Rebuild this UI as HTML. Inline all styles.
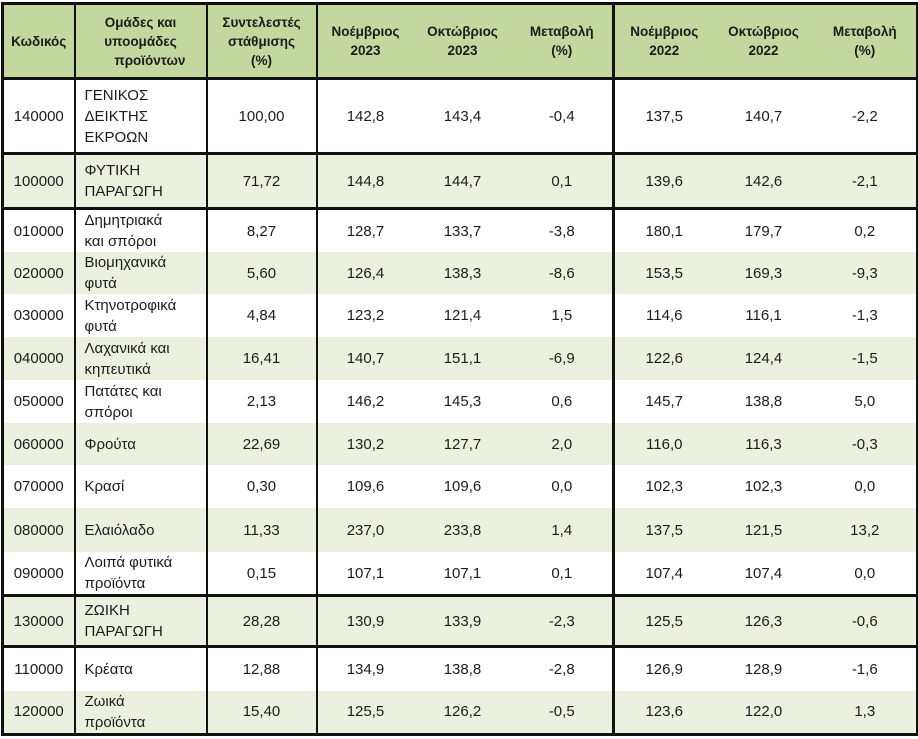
<!DOCTYPE html>
<html><head><meta charset="utf-8">
<style>
html,body{margin:0;padding:0;background:#fff;}
body{width:918px;height:739px;overflow:hidden;}
table{position:absolute;left:1px;top:2px;border-collapse:collapse;table-layout:fixed;width:915px;
font-family:"Liberation Sans","DejaVu Sans",sans-serif;font-size:15px;color:#1c1c1c;border:3px solid #111;}
td{padding:0;text-align:center;vertical-align:middle;line-height:21px;}
td.n{text-align:left;padding-left:9px;}
tr.h td{background:#c4d79e;font-weight:bold;font-size:13.5px;line-height:19px;height:72px;}
tr.g td{background:#ebf1de;}
tr.t td{border-top:3px solid #111;}
td.c1{border-right:2px solid #111;}
td.c2{border-right:2px solid #111;}
td.c3{border-right:2px solid #111;}
td.c6{border-right:3px solid #111;}
</style></head><body>
<table>
<colgroup><col style="width:72px"><col style="width:132px"><col style="width:110px"><col style="width:97px"><col style="width:98px"><col style="width:102px"><col style="width:100px"><col style="width:100px"><col style="width:104px"></colgroup>
<tr class="h"><td class="c1">Κωδικός</td><td class="c2">Ομάδες και<br>υποομάδες<br>&nbsp;&nbsp;&nbsp;&nbsp;&nbsp;προϊόντων</td><td class="c3">Συντελεστές<br>στάθμισης<br>(%)</td><td>Νοέμβριος<br>2023</td><td>Οκτώβριος<br>2023</td><td class="c6">Μεταβολή<br>(%)</td><td>Νοέμβριος<br>2022</td><td>Οκτώβριος<br>2022</td><td>Μεταβολή<br>(%)</td></tr>
<tr class="t" style="height:75px"><td class="c1">140000</td><td class="c2 n">ΓΕΝΙΚΟΣ<br>ΔΕΙΚΤΗΣ<br>ΕΚΡΟΩΝ</td><td class="c3">100,00</td><td>142,8</td><td>143,4</td><td class="c6">-0,4</td><td>137,5</td><td>140,7</td><td>-2,2</td></tr>
<tr class="t g" style="height:55px"><td class="c1">100000</td><td class="c2 n">ΦΥΤΙΚΗ<br>ΠΑΡΑΓΩΓΗ</td><td class="c3">71,72</td><td>144,8</td><td>144,7</td><td class="c6">0,1</td><td>139,6</td><td>142,6</td><td>-2,1</td></tr>
<tr class="t" style="height:43px"><td class="c1">010000</td><td class="c2 n">Δημητριακά<br>και σπόροι</td><td class="c3">8,27</td><td>128,7</td><td>133,7</td><td class="c6">-3,8</td><td>180,1</td><td>179,7</td><td>0,2</td></tr>
<tr class="g" style="height:42px"><td class="c1">020000</td><td class="c2 n">Βιομηχανικά<br>φυτά</td><td class="c3">5,60</td><td>126,4</td><td>138,3</td><td class="c6">-8,6</td><td>153,5</td><td>169,3</td><td>-9,3</td></tr>
<tr style="height:43px"><td class="c1">030000</td><td class="c2 n">Κτηνοτροφικά<br>φυτά</td><td class="c3">4,84</td><td>123,2</td><td>121,4</td><td class="c6">1,5</td><td>114,6</td><td>116,1</td><td>-1,3</td></tr>
<tr class="g" style="height:43px"><td class="c1">040000</td><td class="c2 n">Λαχανικά και<br>κηπευτικά</td><td class="c3">16,41</td><td>140,7</td><td>151,1</td><td class="c6">-6,9</td><td>122,6</td><td>124,4</td><td>-1,5</td></tr>
<tr style="height:43px"><td class="c1">050000</td><td class="c2 n">Πατάτες και<br>σπόροι</td><td class="c3">2,13</td><td>146,2</td><td>145,3</td><td class="c6">0,6</td><td>145,7</td><td>138,8</td><td>5,0</td></tr>
<tr class="g" style="height:42px"><td class="c1">060000</td><td class="c2 n">Φρούτα</td><td class="c3">22,69</td><td>130,2</td><td>127,7</td><td class="c6">2,0</td><td>116,0</td><td>116,3</td><td>-0,3</td></tr>
<tr style="height:43px"><td class="c1">070000</td><td class="c2 n">Κρασί</td><td class="c3">0,30</td><td>109,6</td><td>109,6</td><td class="c6">0,0</td><td>102,3</td><td>102,3</td><td>0,0</td></tr>
<tr class="g" style="height:44px"><td class="c1">080000</td><td class="c2 n">Ελαιόλαδο</td><td class="c3">11,33</td><td>237,0</td><td>233,8</td><td class="c6">1,4</td><td>137,5</td><td>121,5</td><td>13,2</td></tr>
<tr style="height:43px"><td class="c1">090000</td><td class="c2 n">Λοιπά φυτικά<br>προϊόντα</td><td class="c3">0,15</td><td>107,1</td><td>107,1</td><td class="c6">0,1</td><td>107,4</td><td>107,4</td><td>0,0</td></tr>
<tr class="t g" style="height:51px"><td class="c1">130000</td><td class="c2 n">ΖΩΙΚΗ<br>ΠΑΡΑΓΩΓΗ</td><td class="c3">28,28</td><td>130,9</td><td>133,9</td><td class="c6">-2,3</td><td>125,5</td><td>126,3</td><td>-0,6</td></tr>
<tr class="t" style="height:44px"><td class="c1">110000</td><td class="c2 n">Κρέατα</td><td class="c3">12,88</td><td>134,9</td><td>138,8</td><td class="c6">-2,8</td><td>126,9</td><td>128,9</td><td>-1,6</td></tr>
<tr class="g" style="height:43px"><td class="c1">120000</td><td class="c2 n">Ζωικά<br>προϊόντα</td><td class="c3">15,40</td><td>125,5</td><td>126,2</td><td class="c6">-0,5</td><td>123,6</td><td>122,0</td><td>1,3</td></tr>
</table>
</body></html>
